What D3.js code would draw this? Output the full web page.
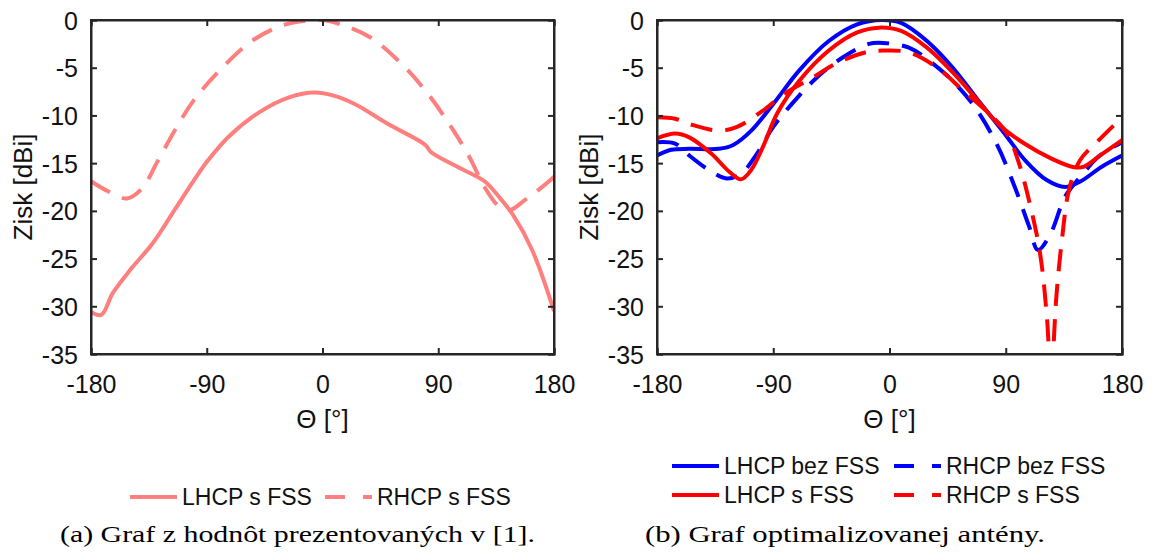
<!DOCTYPE html>
<html><head><meta charset="utf-8">
<script src="https://cdn.jsdelivr.net/npm/d3@7"></script>
<style>body{margin:0;background:#fff}svg{display:block}</style>
</head><body>
<script>
// ---------- data ----------
const xTicks = [-180, -90, 0, 90, 180];
const yTicks = [0, -5, -10, -15, -20, -25, -30, -35];

// Plot (a)
const aLhcpTheta = [-180,-172,-163,-149,-132,-115,-100,-89,-72,-49,-26,-6,8,25,51,80,84,108,126,137,148,163,180];
const aLhcpGain  = [-30.6,-30.9,-28.6,-26.1,-23.4,-19.9,-16.8,-14.7,-12.1,-9.65,-8.1,-7.6,-7.9,-8.8,-10.9,-13.1,-13.8,-15.6,-16.9,-18.5,-20.4,-24.1,-30.5];
const aRhcpTheta = [-180,-166,-152,-140,-129,-115,-100,-78,-55,-32,-15,0,14,37,60,80,100,114,126,137,146,157,168,177,180];
const aRhcpGain  = [-16.9,-18.0,-18.7,-17.6,-15.0,-11.6,-8.4,-5.0,-2.2,-0.6,-0.1,0,-0.45,-1.8,-4.4,-7.4,-11.2,-14.3,-17.5,-19.5,-19.9,-18.9,-17.8,-16.8,-16.4];

// Plot (b)
const bLhcpBezTheta = [-180,-169,-155,-132,-121,-107,-90,-70,-47,-25,-6,9,29,49,68,88,105,122,136,148,164,180];
const bLhcpBezGain  = [-14.2,-13.6,-13.5,-13.5,-13.1,-11.6,-8.8,-5.3,-2.2,-0.45,0,-0.3,-2.2,-5.0,-8.3,-11.7,-14.7,-16.8,-17.5,-16.9,-15.4,-14.2];
const bRhcpBezTheta = [-180,-166,-155,-140,-126,-115,-104,-90,-73,-56,-36,-16,-5,15,32,49,66,83,97,108,115,125,136,148,162,180];
const bRhcpBezGain  = [-12.8,-12.95,-14.2,-15.7,-16.6,-16.1,-14.3,-11.2,-8.4,-6.0,-3.9,-2.5,-2.4,-2.9,-4.4,-6.4,-9.1,-13.0,-17.5,-21.6,-24.1,-22.3,-18.5,-16.4,-14.3,-12.8];
const bLhcpSTheta = [-180,-166,-155,-138,-124,-115,-107,-98,-87,-70,-47,-25,-8,9,29,49,68,85,105,125,142,150,162,180];
const bLhcpSGain  = [-12.4,-11.9,-12.3,-14.0,-15.9,-16.7,-15.7,-13.3,-9.8,-6.4,-3.2,-1.3,-0.8,-1.15,-2.9,-5.5,-8.4,-11.0,-13.0,-14.5,-15.4,-15.4,-14.3,-12.6];
const bRhcpSTheta = [-180,-166,-155,-132,-118,-98,-81,-59,-42,-19,-5,15,37,57,77,91,99.5,108,116.5,122,125,129,133.5,139,147.5,162,180];
const bRhcpSGain  = [-10.2,-10.35,-10.9,-11.6,-11.2,-9.5,-7.7,-6.0,-4.6,-3.4,-3.2,-3.4,-5.0,-7.4,-9.8,-11.9,-14.7,-18.9,-24.4,-31.4,-38,-29.3,-23,-17.8,-14.7,-12.6,-10.2];

const pink = "#ff7f7f", blue = "#0000ff", red = "#ff0000";

const W = 1153, H = 554;
const svg = d3.select("body").append("svg").attr("width", W).attr("height", H);
const FONT = "'Liberation Sans', Arial, Helvetica, sans-serif";
const fmt = d => String(d);

function panel(id, x0, x1, series) {
  const y0 = 20, y1 = 354;
  const xs = d3.scaleLinear().domain([-180, 180]).range([x0, x1]);
  const ys = d3.scaleLinear().domain([-35, 0]).range([y1, y0]);
  const g = svg.append("g");
  g.append("clipPath").attr("id", id).append("rect")
    .attr("x", x0).attr("y", y0).attr("width", x1 - x0).attr("height", y1 - y0);
  const line = d3.line().x(d => xs(d[0])).y(d => ys(d[1])).curve(d3.curveCatmullRom.alpha(0.5));
  const lg = g.append("g").attr("clip-path", `url(#${id})`);
  series.forEach(s => {
    const pts = s.t.map((t, i) => [t, s.v[i]]);
    lg.append("path").attr("d", line(pts)).attr("fill", "none")
      .attr("stroke", s.c).attr("stroke-width", 4)
      .attr("stroke-dasharray", s.dash ? "22,13" : null);
  });
  const col = "#262626";
  const ax = g.append("g").attr("transform", `translate(0,${y1})`)
    .call(d3.axisBottom(xs).tickValues(xTicks).tickSize(-6).tickPadding(21).tickFormat(fmt));
  const axT = g.append("g").attr("transform", `translate(0,${y0})`)
    .call(d3.axisTop(xs).tickValues(xTicks).tickSize(-6).tickFormat(""));
  const ay = g.append("g").attr("transform", `translate(${x0},0)`)
    .call(d3.axisLeft(ys).tickValues(yTicks).tickSize(-6).tickPadding(13).tickFormat(fmt));
  const ayR = g.append("g").attr("transform", `translate(${x1},0)`)
    .call(d3.axisRight(ys).tickValues(yTicks).tickSize(-6).tickFormat(""));
  [ax, axT, ay, ayR].forEach(a => {
    a.select(".domain").attr("stroke", col).attr("stroke-width", 2);
    a.selectAll(".tick line").attr("stroke", col).attr("stroke-width", 2);
    a.selectAll("text").attr("fill", "#111").style("font-family", FONT).style("font-size", "25px");
  });
  ax.selectAll("text").attr("dy", "0.71em");
  ay.selectAll("text").attr("dy", "0.36em");
  g.append("rect").attr("x", x0).attr("y", y0).attr("width", x1 - x0).attr("height", y1 - y0)
    .attr("fill", "none").attr("stroke", col).attr("stroke-width", 2);
  g.append("text").attr("x", (x0 + x1) / 2).attr("y", 428).attr("text-anchor", "middle")
    .attr("fill", "#111").style("font-family", FONT).style("font-size", "26px").text("Θ [°]");
  g.append("text").attr("transform", `translate(${x0 - 68},${(y0 + y1) / 2}) rotate(-90)`)
    .attr("text-anchor", "middle").attr("dy", "0.35em").attr("fill", "#111")
    .style("font-family", FONT).style("font-size", "26px").text("Zisk [dBi]");
}

panel("clipA", 91, 554, [
  { t: aLhcpTheta, v: aLhcpGain, c: pink, dash: false },
  { t: aRhcpTheta, v: aRhcpGain, c: pink, dash: true }
]);
panel("clipB", 657, 1122, [
  { t: bLhcpBezTheta, v: bLhcpBezGain, c: blue, dash: false },
  { t: bRhcpBezTheta, v: bRhcpBezGain, c: blue, dash: true },
  { t: bLhcpSTheta, v: bLhcpSGain, c: red, dash: false },
  { t: bRhcpSTheta, v: bRhcpSGain, c: red, dash: true }
]);

function legendItem(x, y, color, dash, label) {
  svg.append("line").attr("x1", x).attr("x2", x + 47).attr("y1", y).attr("y2", y)
    .attr("stroke", color).attr("stroke-width", 4)
    .attr("stroke-dasharray", dash ? "20,18,10" : null);
  svg.append("text").attr("x", x + 52).attr("y", y).attr("dy", "0.35em").attr("fill", "#111")
    .style("font-family", FONT).style("font-size", "23px").text(label);
}
legendItem(130, 497, pink, false, "LHCP s FSS");
legendItem(325, 497, pink, true, "RHCP s FSS");
legendItem(672, 466, blue, false, "LHCP bez FSS");
legendItem(894, 466, blue, true, "RHCP bez FSS");
legendItem(672, 495, red, false, "LHCP s FSS");
legendItem(894, 495, red, true, "RHCP s FSS");

svg.append("text").attr("x", 60).attr("y", 542).attr("textLength", 475).attr("lengthAdjust", "spacingAndGlyphs")
  .style("font-family", "'Liberation Serif', serif").style("font-size", "23px")
  .text("(a) Graf z hodnôt prezentovaných v [1].");
svg.append("text").attr("x", 645).attr("y", 542).attr("textLength", 400).attr("lengthAdjust", "spacingAndGlyphs")
  .style("font-family", "'Liberation Serif', serif").style("font-size", "23px")
  .text("(b) Graf optimalizovanej antény.");
</script>
</body></html>
